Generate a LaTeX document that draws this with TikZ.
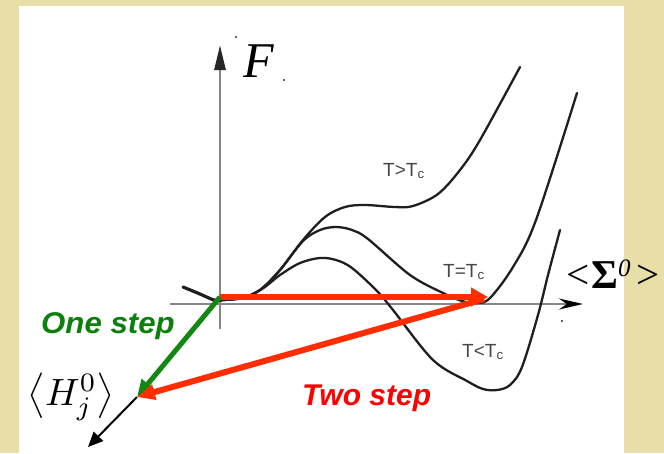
\documentclass[tikz,border=0pt]{standalone}
\usepackage{fontspec}
\newfontfamily\sansf{Liberation Sans}
\newfontfamily\seriff{Liberation Serif}
\usetikzlibrary{arrows.meta}
\definecolor{beige}{RGB}{232,222,168}
\definecolor{arrred}{RGB}{255,45,0}
\definecolor{txtred}{RGB}{255,0,0}
\definecolor{arrgreen}{RGB}{18,135,18}
\definecolor{txtgreen}{RGB}{12,128,12}
\definecolor{axisgray}{RGB}{135,135,135}
\tikzset{
  axisline/.style={draw=axisgray,line width=2.8pt},
  curve/.style={draw=black!88,line width=2.3pt,line cap=round},
  tlabel/.style={font=\sansf\fontsize{19}{19}\selectfont,text=black!72,inner sep=0pt,anchor=base west},
  steptext/.style={font=\sansf\bfseries\itshape\fontsize{30}{30}\selectfont,inner sep=0pt,anchor=base west},
  dotmark/.style={fill=black!80}
}
\begin{document}
\begin{tikzpicture}[x=1pt,y=-1pt]
\useasboundingbox (0,0) rectangle (664,453);
\fill[beige] (0,0) rectangle (664,453);
\fill[white] (19,6) rectangle (624,453);

% axes
\coordinate (vbot) at (220,329);
\coordinate (vtop) at (220,45);
\coordinate (hleft) at (170,304);
\coordinate (hright) at (583,304);
\draw[axisline,-{Triangle[length=25pt,width=11pt,color=black!85]}] (vbot) -- (vtop);
\draw[axisline,-{Stealth[length=24pt,width=11pt,color=black]}] (hleft) -- (hright);

% small dots
\fill[dotmark] (236,37) circle (1.1);
\fill[dotmark] (284,80) circle (1.1);
\fill[dotmark] (562,321) circle (1.1);

% curves
\draw[curve,line width=3.2pt] plot[smooth,tension=0.6] coordinates {(183,287) (200,294) (214,300) (222,300)};
\draw[curve] plot[smooth,tension=0.55] coordinates {(222,300) (242,298) (260,290) (280,270) (303,240) (325,217) (345,207) (365,205) (395,207) (413,206) (438,194) (460,170) (480,140) (520,67)};
\draw[curve] plot[smooth,tension=0.55] coordinates {(222,300) (242,298) (260,290) (280,270) (303,241) (320,230) (336,227) (352,230) (368,239) (410,275) (443,293) (462,301) (477,303) (490,298) (513,267) (536,220) (577,93)};
\draw[curve] plot[smooth,tension=0.55] coordinates {(222,300) (242,298) (262,289) (280,275) (300,263) (320,258) (336,260) (352,268) (377,291) (393,310) (433,360) (467,381) (483,389) (497,390) (510,385) (522,367) (538,315) (548,275) (560,230)};

% labels on curves
\node[tlabel] (tgt) at (383,176) {T>T\textsubscript{c}};
\node[tlabel] (teq) at (443,277) {T=T\textsubscript{c}};
\node[tlabel] (tlt) at (462,357) {T<T\textsubscript{c}};

% axis labels
\node[inner sep=0pt,anchor=base west,font=\seriff\itshape\fontsize{50}{50}\selectfont] (F) at (243,77) {F};
\node[inner sep=0pt,anchor=base west,font=\seriff\fontsize{41}{41}\selectfont] (sigma) at (566,288)
  {<\hspace{2pt}\textbf{Σ}\raisebox{12pt}{\fontsize{25}{25}\selectfont\itshape 0}\hspace{6pt}>};
\node[inner sep=0pt,scale=3.8] (H) at (71,397) {$\left\langle H^{0}_{j}\right\rangle$};

% arrow points
\coordinate (O) at (220,297);
\coordinate (P) at (488,297);
\coordinate (Q) at (484,299);
\coordinate (M) at (137,397);
\coordinate (E) at (88,447);

\draw[line width=2pt,-{Triangle[length=15pt,width=13pt]}] (M) -- (E);
\draw[arrred,line width=6pt,-{Triangle[length=17pt,width=18pt]}] (O) -- (P);
\draw[arrgreen,line width=5pt,-{Triangle[length=17pt,width=15pt]}] (O) -- (M);
\draw[arrred,line width=6pt,-{Triangle[length=18pt,width=15pt]}] (Q) -- (M);

% step texts
\node[steptext,text=txtgreen,xscale=1.04] (one) at (41,333) {One step};
\node[steptext,text=txtred] (two) at (302,405) {Two step};
\end{tikzpicture}
\end{document}
